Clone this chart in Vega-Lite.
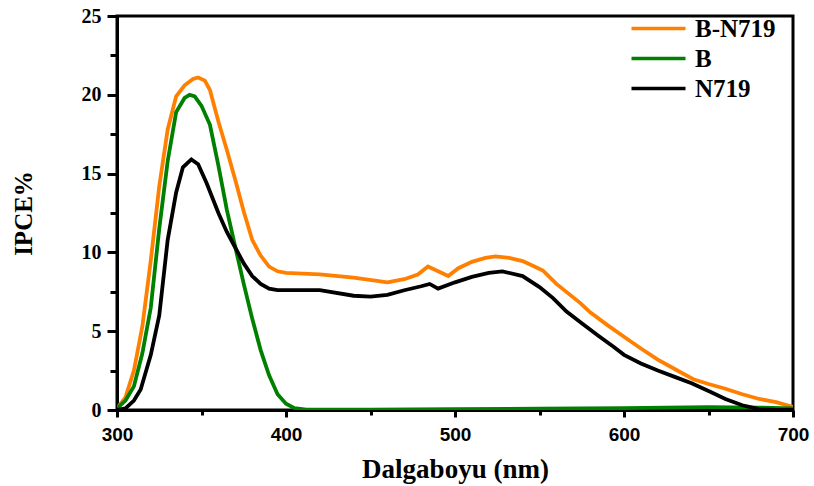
{
  "$schema": "https://vega.github.io/schema/vega-lite/v6.json",
  "width": 676,
  "height": 394,
  "autosize": "none",
  "padding": {"left": 117, "top": 16, "right": 21, "bottom": 76},
  "background": "white",
  "config": {
    "view": {"stroke": "black", "strokeWidth": 3},
    "axis": {"grid": false, "domainColor": "black", "domainWidth": 3, "tickColor": "black", "tickWidth": 3, "labelColor": "black", "titleColor": "black", "labelFlush": false}
  },
  "data": {
    "values": [
      {"s":"B-N719","x":300,"y":0.1},{"s":"B-N719","x":305,"y":0.8},{"s":"B-N719","x":310,"y":2.5},{"s":"B-N719","x":315,"y":5.3},{"s":"B-N719","x":320,"y":9.5},{"s":"B-N719","x":325,"y":14.2},{"s":"B-N719","x":330,"y":17.8},{"s":"B-N719","x":335,"y":19.9},{"s":"B-N719","x":340,"y":20.6},{"s":"B-N719","x":345,"y":21.0},{"s":"B-N719","x":348,"y":21.1},{"s":"B-N719","x":352,"y":20.9},{"s":"B-N719","x":355,"y":20.3},{"s":"B-N719","x":357,"y":19.5},{"s":"B-N719","x":360,"y":18.3},{"s":"B-N719","x":365,"y":16.5},{"s":"B-N719","x":370,"y":14.6},{"s":"B-N719","x":375,"y":12.6},{"s":"B-N719","x":380,"y":10.8},{"s":"B-N719","x":385,"y":9.8},{"s":"B-N719","x":390,"y":9.1},{"s":"B-N719","x":395,"y":8.8},{"s":"B-N719","x":400,"y":8.7},{"s":"B-N719","x":420,"y":8.6},{"s":"B-N719","x":440,"y":8.4},{"s":"B-N719","x":460,"y":8.1},{"s":"B-N719","x":470,"y":8.3},{"s":"B-N719","x":478,"y":8.6},{"s":"B-N719","x":484,"y":9.1},{"s":"B-N719","x":490,"y":8.8},{"s":"B-N719","x":496,"y":8.5},{"s":"B-N719","x":502,"y":9.0},{"s":"B-N719","x":510,"y":9.4},{"s":"B-N719","x":518,"y":9.65},{"s":"B-N719","x":524,"y":9.75},{"s":"B-N719","x":532,"y":9.65},{"s":"B-N719","x":540,"y":9.45},{"s":"B-N719","x":547,"y":9.1},{"s":"B-N719","x":552,"y":8.85},{"s":"B-N719","x":560,"y":8.0},{"s":"B-N719","x":567,"y":7.4},{"s":"B-N719","x":574,"y":6.8},{"s":"B-N719","x":580,"y":6.2},{"s":"B-N719","x":590,"y":5.4},{"s":"B-N719","x":600,"y":4.65},{"s":"B-N719","x":610,"y":3.9},{"s":"B-N719","x":620,"y":3.2},{"s":"B-N719","x":630,"y":2.6},{"s":"B-N719","x":641,"y":1.95},{"s":"B-N719","x":650,"y":1.65},{"s":"B-N719","x":660,"y":1.35},{"s":"B-N719","x":670,"y":1.0},{"s":"B-N719","x":680,"y":0.7},{"s":"B-N719","x":690,"y":0.5},{"s":"B-N719","x":700,"y":0.2},
      {"s":"B","x":300,"y":0.1},{"s":"B","x":305,"y":0.6},{"s":"B","x":310,"y":1.5},{"s":"B","x":315,"y":3.6},{"s":"B","x":320,"y":6.5},{"s":"B","x":325,"y":11.5},{"s":"B","x":330,"y":15.8},{"s":"B","x":335,"y":18.9},{"s":"B","x":340,"y":19.8},{"s":"B","x":343,"y":20.0},{"s":"B","x":346,"y":19.9},{"s":"B","x":350,"y":19.3},{"s":"B","x":355,"y":18.1},{"s":"B","x":360,"y":15.5},{"s":"B","x":365,"y":12.7},{"s":"B","x":369,"y":10.8},{"s":"B","x":375,"y":8.0},{"s":"B","x":380,"y":5.8},{"s":"B","x":385,"y":3.8},{"s":"B","x":390,"y":2.2},{"s":"B","x":395,"y":1.0},{"s":"B","x":400,"y":0.4},{"s":"B","x":405,"y":0.12},{"s":"B","x":412,"y":0.02},{"s":"B","x":450,"y":0.02},{"s":"B","x":500,"y":0.05},{"s":"B","x":550,"y":0.08},{"s":"B","x":600,"y":0.12},{"s":"B","x":650,"y":0.18},{"s":"B","x":680,"y":0.15},{"s":"B","x":700,"y":0.1},
      {"s":"N719","x":300,"y":0.0},{"s":"N719","x":305,"y":0.1},{"s":"N719","x":310,"y":0.6},{"s":"N719","x":314,"y":1.3},{"s":"N719","x":320,"y":3.5},{"s":"N719","x":325,"y":6.0},{"s":"N719","x":330,"y":10.8},{"s":"N719","x":335,"y":13.8},{"s":"N719","x":339,"y":15.4},{"s":"N719","x":344,"y":15.9},{"s":"N719","x":348,"y":15.6},{"s":"N719","x":353,"y":14.4},{"s":"N719","x":360,"y":12.5},{"s":"N719","x":365,"y":11.3},{"s":"N719","x":369,"y":10.5},{"s":"N719","x":375,"y":9.3},{"s":"N719","x":380,"y":8.5},{"s":"N719","x":385,"y":8.0},{"s":"N719","x":390,"y":7.7},{"s":"N719","x":395,"y":7.6},{"s":"N719","x":400,"y":7.6},{"s":"N719","x":420,"y":7.6},{"s":"N719","x":440,"y":7.25},{"s":"N719","x":450,"y":7.2},{"s":"N719","x":460,"y":7.3},{"s":"N719","x":470,"y":7.6},{"s":"N719","x":480,"y":7.85},{"s":"N719","x":485,"y":8.0},{"s":"N719","x":490,"y":7.7},{"s":"N719","x":500,"y":8.1},{"s":"N719","x":510,"y":8.45},{"s":"N719","x":520,"y":8.7},{"s":"N719","x":528,"y":8.8},{"s":"N719","x":540,"y":8.5},{"s":"N719","x":550,"y":7.8},{"s":"N719","x":558,"y":7.1},{"s":"N719","x":566,"y":6.25},{"s":"N719","x":575,"y":5.5},{"s":"N719","x":585,"y":4.7},{"s":"N719","x":594,"y":4.0},{"s":"N719","x":600,"y":3.5},{"s":"N719","x":610,"y":2.95},{"s":"N719","x":620,"y":2.5},{"s":"N719","x":630,"y":2.1},{"s":"N719","x":640,"y":1.7},{"s":"N719","x":651,"y":1.16},{"s":"N719","x":660,"y":0.7},{"s":"N719","x":670,"y":0.3},{"s":"N719","x":680,"y":0.05},{"s":"N719","x":690,"y":0.0},{"s":"N719","x":700,"y":0.0}
    ]
  },
  "mark": {"type": "line", "strokeWidth": 3.8, "clip": true},
  "encoding": {
    "x": {"field": "x", "type": "quantitative", "scale": {"domain": [300, 700], "nice": false},
      "axis": {"values": [300, 350, 400, 450, 500, 550, 600, 650, 700], "title": "Dalgaboyu (nm)",
        "labelExpr": "datum.value % 100 == 0 ? datum.label : ''",
        "tickSize": {"condition": {"test": "datum.value % 100 == 0", "value": 7}, "value": 5},
        "labelPadding": 8,
        "labelFont": "Liberation Sans", "labelFontWeight": "bold", "labelFontSize": 19,
        "titleFont": "Liberation Serif", "titleFontWeight": "bold", "titleFontSize": 27, "titlePadding": 12}},
    "y": {"field": "y", "type": "quantitative", "scale": {"domain": [0, 25], "nice": false},
      "axis": {"values": [0, 2.5, 5, 7.5, 10, 12.5, 15, 17.5, 20, 22.5, 25], "title": "IPCE%",
        "labelExpr": "datum.value % 5 == 0 ? datum.label : ''",
        "tickSize": {"condition": {"test": "datum.value % 5 == 0", "value": 10}, "value": 7},
        "labelPadding": 6,
        "labelFont": "Liberation Serif", "labelFontWeight": "bold", "labelFontSize": 20,
        "titleFont": "Liberation Serif", "titleFontWeight": "bold", "titleFontSize": 25, "titlePadding": 45}},
    "color": {"field": "s", "type": "nominal", "sort": ["B-N719", "B", "N719"],
      "scale": {"domain": ["B-N719", "B", "N719"], "range": ["#FF8000", "#008000", "#000000"]},
      "legend": {"title": null, "orient": "none", "legendX": 529, "legendY": 0, "padding": 0,
        "symbolType": "M-3,0H3", "symbolSize": 324, "symbolStrokeWidth": 3.5,
        "labelFont": "Liberation Serif", "labelFontWeight": "bold", "labelFontSize": 25, "labelColor": "black",
        "rowPadding": 4, "labelOffset": 24}},
    "order": {"field": "s"}
  }
}
